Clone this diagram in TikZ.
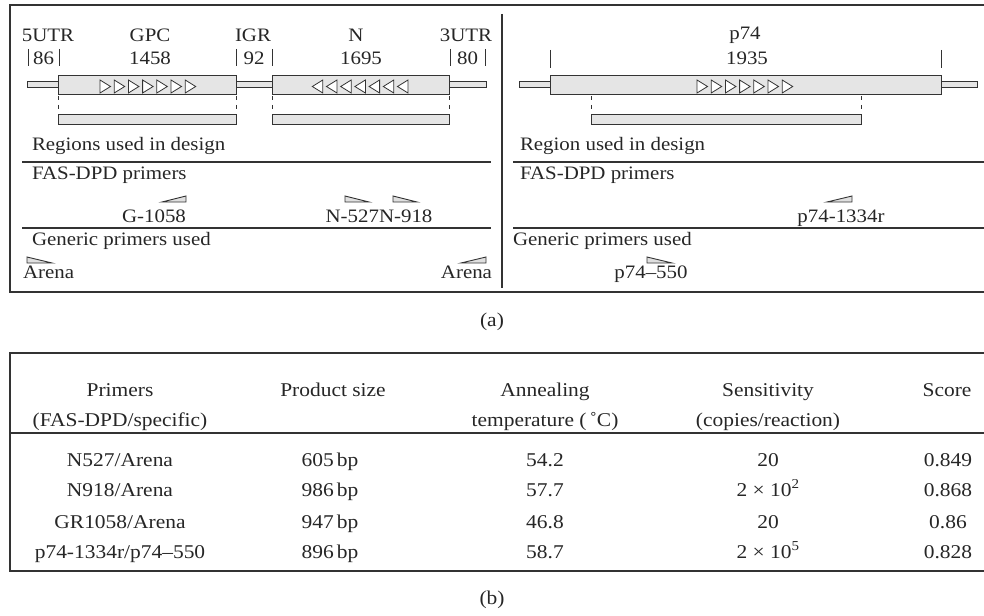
\documentclass[tikz,border=0pt]{standalone}
\usepackage{fontspec}
\setmainfont[FakeStretch=1.1]{Liberation Serif}
\begin{document}
\begin{tikzpicture}[x=1pt,y=-1pt,
  every node/.style={inner sep=0pt, outer sep=0pt},
  lab/.style={font=\fontsize{19}{22}\selectfont, text=black!85},
  tab/.style={font=\fontsize{19.5}{22}\selectfont, text=black!85},
  frame/.style={draw=black!80, line width=1.6pt},
  sep/.style={draw=black!80, line width=1.1pt},
  genebox/.style={draw=black!80, fill=gray!20, line width=1pt},
  tri/.style={draw=black!80, fill=white, line width=0.8pt, line join=miter},
  tick/.style={draw=black!80, line width=1pt},
  dtick/.style={draw=black!80, line width=0.9pt, dash pattern=on 4pt off 5pt},
  primer/.style={draw=black!80, fill=gray!25, line width=0.9pt}]
\useasboundingbox (0,0) rectangle (984,615);

% ---------- panel (a) frame ----------
\draw[frame] (984,5) -- (10,5) -- (10,292) -- (984,292);
\draw[sep] (502,14) -- (502,288);

% ---------- left genome ----------
\node[lab,anchor=base] (t5utr) at (48,42) {5UTR};
\node[lab,anchor=base] (tgpc) at (150,42) {GPC};
\node[lab,anchor=base] (tigr) at (253,42) {IGR};
\node[lab,anchor=base] (tn) at (356,42) {N};
\node[lab,anchor=base] (t3utr) at (466,42) {3UTR};
\node[lab,anchor=base] (n86) at (43.5,65) {86};
\node[lab,anchor=base] (n1458) at (150,65) {1458};
\node[lab,anchor=base] (n92) at (254,65) {92};
\node[lab,anchor=base] (n1695) at (361,65) {1695};
\node[lab,anchor=base] (n80) at (467.5,65) {80};
\foreach \x in {28,59,236,272,450,485} \draw[tick] (\x,49) -- (\x,66);

\draw[genebox] (27,82) rectangle (58,88);
\draw[genebox] (236,82) rectangle (272,88);
\draw[genebox] (449,82) rectangle (486,88);
\draw[genebox] (58,76) rectangle (236,95);
\draw[genebox] (272,76) rectangle (449,95);
\foreach \i in {0,...,6} {
  \draw[tri] ({100+\i*14.2},80) -- ({100+\i*14.2},93) -- ({110.5+\i*14.2},86.5) -- cycle;
  \draw[tri] ({408-\i*14.2},80) -- ({408-\i*14.2},93) -- ({397.5-\i*14.2},86.5) -- cycle;
}
\foreach \x in {58,236,272,449} \draw[dtick] (\x,96) -- (\x,111);
\draw[genebox] (58,115) rectangle (236,124);
\draw[genebox] (272,115) rectangle (449,124);

\node[lab,anchor=base west] (rud) at (32,150) {Regions used in design};
\draw[sep] (22,162) -- (491,162);
\node[lab,anchor=base west] (fasl) at (32,179) {FAS-DPD primers};
\draw[primer] (186,196) -- (186,202) -- (162,202) -- cycle;
\draw[primer] (345,196) -- (345,202) -- (369,202) -- cycle;
\draw[primer] (393,196) -- (393,202) -- (417,202) -- cycle;
\node[lab,anchor=base] (g1058) at (154,222) {G-1058};
\node[lab,anchor=base east] (n527) at (379,222) {N-527};
\node[lab,anchor=base west] (n918) at (379,222) {N-918};
\draw[sep] (22,228) -- (491,228);
\node[lab,anchor=base west] (genl) at (32,245) {Generic primers used};
\draw[primer] (27,257) -- (27,263) -- (52,263) -- cycle;
\draw[primer] (486,257) -- (486,263) -- (461,263) -- cycle;
\node[lab,anchor=base west] (arl) at (23,278) {Arena};
\node[lab,anchor=base east] (arr) at (492,278) {Arena};

% ---------- right genome ----------
\node[lab,anchor=base] (tp74) at (745,40) {p74};
\node[lab,anchor=base] (n1935) at (747,65) {1935};
\foreach \x in {550,941} \draw[tick] (\x,50) -- (\x,68);
\draw[genebox] (519,82) rectangle (550,88);
\draw[genebox] (941,82) rectangle (977,88);
\draw[genebox] (550,76) rectangle (941,95);
\foreach \i in {0,...,6}
  \draw[tri] ({697+\i*14.2},80) -- ({697+\i*14.2},93) -- ({707.5+\i*14.2},86.5) -- cycle;
\foreach \x in {591,861} \draw[dtick] (\x,96) -- (\x,111);
\draw[genebox] (591,115) rectangle (861,124);

\node[lab,anchor=base west] (rudr) at (520,150) {Region used in design};
\draw[sep] (513,162) -- (984,162);
\node[lab,anchor=base west] (fasr) at (520,179) {FAS-DPD primers};
\draw[primer] (852,196) -- (852,202) -- (827,202) -- cycle;
\node[lab,anchor=base] (p1334) at (841,222) {p74-1334r};
\draw[sep] (513,228) -- (984,228);
\node[lab,anchor=base west] (genr) at (513,245) {Generic primers used};
\draw[primer] (647,257) -- (647,263) -- (672,263) -- cycle;
\node[lab,anchor=base] (p550) at (651,278) {p74–550};

\node[tab] (capa) at (492,322) {(a)};

% ---------- panel (b) table ----------
\draw[frame] (984,353) -- (10,353) -- (10,571) -- (984,571);
\draw[sep] (10,433) -- (984,433);

\node[tab,anchor=base] (h1a) at (120,396.5) {Primers};
\node[tab,anchor=base] (h1b) at (120,426.5) {(FAS-DPD/specific)};
\node[tab,anchor=base] (h2) at (333,396.5) {Product size};
\node[tab,anchor=base] (h3a) at (545,396.5) {Annealing};
\node[tab,anchor=base] (h3b) at (545,426.5) {temperature (\,˚C)};
\node[tab,anchor=base] (h4a) at (768,396.5) {Sensitivity};
\node[tab,anchor=base] (h4b) at (768,426.5) {(copies/reaction)};
\node[tab,anchor=base] (h5) at (947,396.5) {Score};

\foreach \y/\a/\b/\c/\d/\e in {
  466.5/N527\slash Arena/605\,bp/54.2/20/0.849,
  496.5/N918\slash Arena/986\,bp/57.7/2 × 10\textsuperscript{2}/0.868,
  528/GR1058\slash Arena/947\,bp/46.8/20/0.86,
  558.5/p74-1334r\slash p74–550/896\,bp/58.7/2 × 10\textsuperscript{5}/0.828} {
  \node[tab,anchor=base] at (120,\y) {\a};
  \node[tab,anchor=base] at (330,\y) {\b};
  \node[tab,anchor=base] at (545,\y) {\c};
  \node[tab,anchor=base] at (768,\y) {\d};
  \node[tab,anchor=base] at (948,\y) {\e};
}

\node[tab] (capb) at (492,600) {(b)};
\end{tikzpicture}
\end{document}
